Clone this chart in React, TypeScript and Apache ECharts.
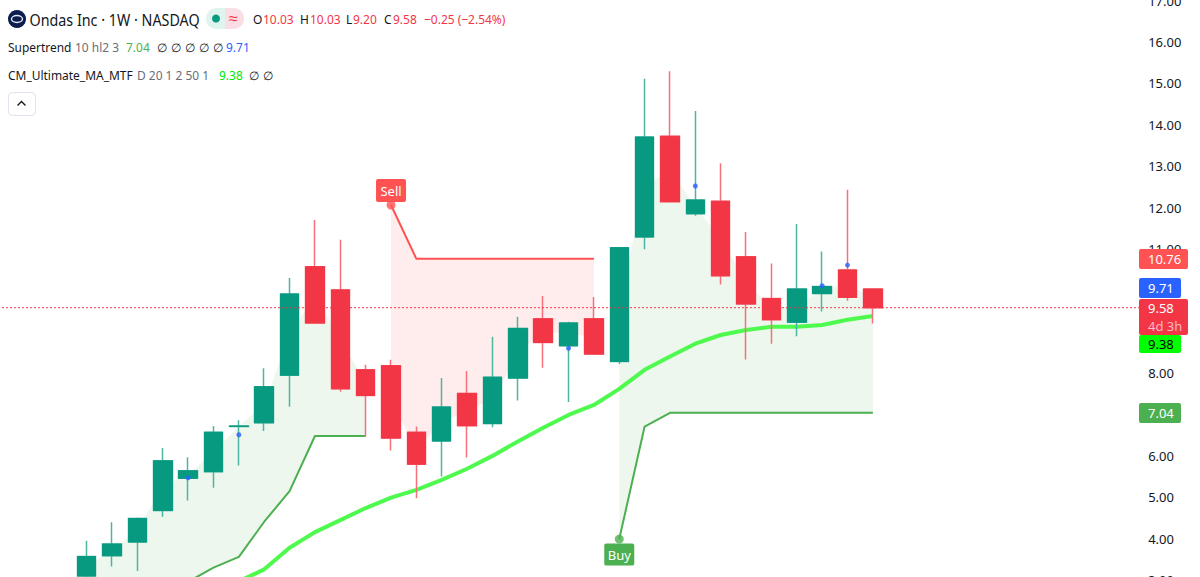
import React, { useEffect, useRef } from "react";
import * as echarts from "echarts";

const FONT = '"Noto Sans", sans-serif';
const GREEN = "#089981";
const RED = "#f23645";

// [open, close, low, high] per weekly candle
const opens = [3.1, 3.59, 3.92, 4.68, 5.46, 5.62, 6.71, 6.8, 7.95, 10.57, 10.01, 8.08, 8.18, 6.57, 6.36, 7.51, 6.78, 7.88, 9.31, 8.66, 9.31, 8.28, 11.29, 13.72, 11.85, 12.15, 10.81, 9.8, 9.23, 9.92, 10.49, 10.03];
const closes = [3.57, 3.87, 4.49, 5.88, 5.64, 6.57, 6.72, 7.67, 9.91, 9.21, 7.62, 7.46, 6.43, 5.8, 7.18, 6.73, 7.9, 9.08, 8.74, 9.21, 8.46, 11.03, 13.7, 12.14, 12.18, 10.35, 9.67, 9.29, 10.03, 10.09, 9.83, 9.58];
const lows = [3.0, 3.33, 3.22, 4.53, 4.92, 5.23, 5.77, 6.6, 7.19, 9.2, 7.55, 6.47, 6.13, 4.98, 5.5, 5.96, 6.69, 7.34, 8.13, 7.3, 8.44, 8.22, 10.99, 12.12, 11.8, 10.14, 8.33, 8.71, 8.89, 9.49, 9.75, 9.2];
const highs = [3.95, 4.4, 4.51, 6.19, 5.97, 6.72, 6.86, 8.12, 10.3, 11.7, 11.22, 8.2, 8.32, 6.71, 7.88, 8.05, 8.88, 9.36, 9.86, 9.24, 9.84, 11.04, 15.11, 15.29, 14.33, 13.07, 11.41, 10.65, 11.6, 10.94, 12.43, 10.03];

const N = "-";
const upTrend = [2.4, 2.5, 2.65, 2.8, 2.96, 3.3, 3.56, 4.41, 5.15, 6.48, 6.48, 6.48, N, N, N, N, N, N, N, N, N, 3.99, 6.71, 7.04, 7.04, 7.04, 7.04, 7.04, 7.04, 7.04, 7.04, 7.04];
const downTrend = [N, N, N, N, N, N, N, N, N, N, N, N, 12.06, 10.76, 10.76, 10.76, 10.76, 10.76, 10.76, 10.76, 10.76, N, N, N, N, N, N, N, N, N, N, N];
const maLine = [N, N, N, N, N, N, 2.97, 3.26, 3.78, 4.16, 4.45, 4.74, 4.99, 5.18, 5.42, 5.69, 6.0, 6.35, 6.68, 6.99, 7.23, 7.62, 8.08, 8.4, 8.71, 8.92, 9.04, 9.12, 9.12, 9.16, 9.29, 9.38];
const blueDots = [N, N, N, N, 5.47, N, 6.51, N, N, N, N, N, N, N, N, N, N, N, N, 8.6, N, N, N, N, 12.52, N, N, N, N, 10.11, 10.61, N];

const LEAD = 3;
const TRAIL = 10;
const yTicks = { min: 3, max: 17, step: 1 };
const lastPrice = 9.58;
const sellIndex = 12;
const buyIndex = 21;

const categories = Array.from({ length: LEAD + opens.length + TRAIL }, (_, i) => String(i));
const pad = (a: any[]) => [...Array(LEAD).fill(N), ...a, ...Array(TRAIL).fill(N)];
const mids = opens.map((o, i) => (o + closes[i]) / 2);
const isNum = (v: any) => typeof v === "number";

const txt = (x: number, y: number, text: string, fill: string, size = 13, sx = 0.92, extra: any = {}) => ({
  type: "text",
  x,
  y,
  scaleX: sx,
  z: 30,
  silent: true,
  style: { text, fill, font: `${size}px ${FONT}`, verticalAlign: "middle", align: "left", ...extra },
});

const tag = (y0: number, y1: number, x1: number, color: string, label: string, textColor = "#fff") => [
  { type: "rect", z: 25, shape: { x: 1139, y: y0, width: x1 - 1139, height: y1 - y0, r: 2 }, style: { fill: color } },
  txt(1148, (y0 + y1) / 2, label, textColor, 13, 1),
];

const empties = (n: number) => Array.from({ length: n }, (_, i) => 157 + i * 14);

const graphics: any[] = [
  { type: "circle", z: 30, shape: { cx: 17, cy: 19, r: 9 }, style: { fill: "#0b1d4d" } },
  { type: "ellipse", z: 31, shape: { cx: 17, cy: 19, rx: 5.5, ry: 3.5 }, style: { fill: "none", stroke: "#dfe6f5", lineWidth: 1.4 } },
  txt(29.5, 20, "Ondas Inc · 1W · NASDAQ", "#131722", 16, 0.895),
  { type: "rect", z: 30, shape: { x: 206, y: 8, width: 38, height: 21, r: 10.5 }, style: { fill: "#dff3ef" } },
  { type: "rect", z: 30, shape: { x: 225, y: 8, width: 19, height: 21, r: [0, 10.5, 10.5, 0] }, style: { fill: "#fbdde6" } },
  { type: "circle", z: 31, shape: { cx: 216, cy: 18.5, r: 4 }, style: { fill: GREEN } },
  txt(229, 18, "≈", RED, 16, 1),
  txt(253, 19.5, "O", "#131722"),
  txt(263, 19.5, "10.03", RED),
  txt(300, 19.5, "H", "#131722"),
  txt(310, 19.5, "10.03", RED),
  txt(346, 19.5, "L", "#131722"),
  txt(353, 19.5, "9.20", RED),
  txt(384, 19.5, "C", "#131722"),
  txt(393, 19.5, "9.58", RED),
  txt(424, 19.5, "−0.25 (−2.54%)", RED),
  txt(8, 47, "Supertrend", "#131722"),
  txt(75, 47, "10 hl2 3", "#6a6d78"),
  txt(126, 47, "7.04", "#4caf50"),
  ...empties(5).map((x) => txt(x, 47, "∅", "#131722", 12, 1)),
  txt(226, 47, "9.71", "#2962ff"),
  txt(8, 75, "CM_Ultimate_MA_MTF", "#131722"),
  txt(137, 75, "D 20 1 2 50 1", "#6a6d78"),
  txt(219, 75, "9.38", "#00e600"),
  txt(249, 75, "∅", "#131722", 12, 1),
  txt(263, 75, "∅", "#131722", 12, 1),
  { type: "rect", z: 30, shape: { x: 8.5, y: 92.5, width: 27, height: 23, r: 4 }, style: { fill: "#fff", stroke: "#e0e3eb", lineWidth: 1 } },
  { type: "polyline", z: 31, shape: { points: [[17.5, 105.5], [21.5, 101.5], [25.5, 105.5]] }, style: { fill: "none", stroke: "#131722", lineWidth: 1.4 } },
  ...tag(249, 269, 1188, "#ff5252", "10.76"),
  ...tag(278, 298, 1181, "#2962ff", "9.71"),
  { type: "rect", z: 26, shape: { x: 1139, y: 299, width: 49, height: 36, r: 2 }, style: { fill: RED } },
  txt(1148, 308, "9.58", "#fff", 13, 1),
  txt(1148, 325.5, "4d 3h", "#fbb9c0", 13, 1),
  ...tag(335, 353, 1181, "#00ff00", "9.38", "#000"),
  ...tag(403, 423, 1181, "#4caf50", "7.04"),
];

const labelBox = "path://M2 0H28Q30 0 30 2V21Q30 23 28 23H2Q0 23 0 21V2Q0 0 2 0Z";

export default function App() {
  const ref = useRef<HTMLDivElement>(null);
  useEffect(() => {
    const chart = echarts.init(ref.current!, undefined, { renderer: "svg" });
    const idx = (i: number) => i + LEAD;
    const greenDelta = upTrend.map((v, i) => (isNum(v) ? mids[i] - (v as number) : N));
    const redDelta = downTrend.map((v, i) => (isNum(v) ? (v as number) - mids[i] : N));
    const redBase = downTrend.map((v, i) => (isNum(v) ? mids[i] : N));
    const wicks = opens.map((o, i) => [idx(i), o, closes[i], lows[i], highs[i]]);
    const bodies = opens.map((o, i) => [idx(i), o, closes[i], Math.min(o, closes[i]), Math.max(o, closes[i])]);
    const lineBase = { type: "line", showSymbol: false, symbol: "none", silent: true, connectNulls: false };
    chart.setOption({
      animation: false,
      backgroundColor: "#ffffff",
      grid: { left: -2.06, top: 0.5, width: 1141.2, height: 579.6, containLabel: false, outerBoundsMode: "none" },
      xAxis: [
        { type: "category", data: categories, boundaryGap: true, show: false },
        { type: "value", min: 0, max: 1, show: false },
      ],
      yAxis: {
        type: "value",
        position: "right",
        min: yTicks.min,
        max: yTicks.max,
        interval: yTicks.step,
        axisLine: { show: false },
        axisTick: { show: false },
        splitLine: { show: false },
        axisLabel: { color: "#131722", fontSize: 13, fontFamily: FONT, margin: 9, showMinLabel: true, showMaxLabel: true, formatter: (v: number) => v.toFixed(2) },
      },
      series: [
        { ...lineBase, name: "upBase", stack: "g", data: pad(upTrend), lineStyle: { width: 0 }, z: 1 },
        { ...lineBase, name: "upFill", stack: "g", data: pad(greenDelta), lineStyle: { width: 0 }, areaStyle: { color: "rgba(76,175,80,0.1)", opacity: 1 }, z: 1 },
        { ...lineBase, name: "downBase", stack: "r", data: pad(redBase), lineStyle: { width: 0 }, z: 1 },
        { ...lineBase, name: "downFill", stack: "r", data: pad(redDelta), lineStyle: { width: 0 }, areaStyle: { color: "rgba(255,82,82,0.1)", opacity: 1 }, z: 1 },
        { ...lineBase, name: "Up Trend", data: pad(upTrend), lineStyle: { color: "#4caf50", width: 2 }, z: 2 },
        { ...lineBase, name: "Down Trend", data: pad(downTrend), lineStyle: { color: "#ff5252", width: 2 }, z: 2 },
        { ...lineBase, name: "MA", data: pad(maLine), lineStyle: { color: "#4dfa4d", width: 4 }, z: 2 },
        {
          type: "candlestick", name: "wicks", silent: true, barWidth: 19, z: 3,
          encode: { x: 0, y: [1, 2, 3, 4] }, data: wicks,
          itemStyle: { color: "#4fb5a3", color0: "#f6707c", borderColor: "#4fb5a3", borderColor0: "#f6707c", borderWidth: 1.5 },
        },
        {
          type: "candlestick", name: "bodies", silent: true, barWidth: 19, z: 4,
          encode: { x: 0, y: [1, 2, 3, 4] }, data: bodies,
          itemStyle: { color: GREEN, color0: RED, borderColor: GREEN, borderColor0: RED, borderWidth: 1 },
        },
        {
          type: "scatter", name: "dots", silent: true, z: 6, symbolSize: 5, data: pad(blueDots),
          itemStyle: { color: "#2962ff" },
        },
        {
          ...lineBase, name: "Last price", z: 8, xAxisIndex: 1,
          data: [[0, lastPrice], [1, lastPrice]],
          itemStyle: { color: RED }, lineStyle: { color: RED, width: 1, type: [2, 2], opacity: 1 },
        },
        {
          type: "scatter", name: "Sell", silent: true, z: 7, symbol: "circle", symbolSize: 9,
          data: [[idx(sellIndex), downTrend[sellIndex]]], itemStyle: { color: "#ff5252" },
          markPoint: {
            silent: true, symbol: labelBox, symbolSize: [30, 23], symbolOffset: [0, -14.5],
            itemStyle: { color: "#ff5252" },
            label: { show: true, position: "inside", formatter: "Sell", color: "#fff", fontSize: 13, fontFamily: FONT },
            data: [{ coord: [idx(sellIndex), downTrend[sellIndex]] }],
          },
        },
        {
          type: "scatter", name: "Buy", silent: true, z: 7, symbol: "circle", symbolSize: 9,
          data: [[idx(buyIndex), upTrend[buyIndex]]], itemStyle: { color: "#4caf50" },
          markPoint: {
            silent: true, symbol: labelBox, symbolSize: [30, 22], symbolOffset: [0, 15.5],
            itemStyle: { color: "#4caf50" },
            label: { show: true, position: "inside", formatter: "Buy", color: "#fff", fontSize: 13, fontFamily: FONT },
            data: [{ coord: [idx(buyIndex), upTrend[buyIndex]] }],
          },
        },
      ],
      graphic: graphics,
    });
    return () => chart.dispose();
  }, []);
  return <div ref={ref} style={{ position: "fixed", left: 0, top: 0, width: 1200, height: 577 }} />;
}
